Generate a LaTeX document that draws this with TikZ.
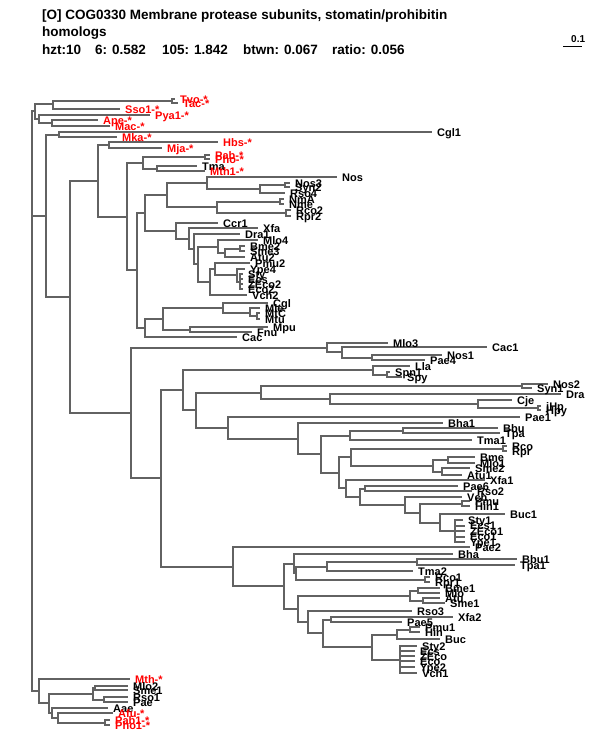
\documentclass[tikz,border=0pt]{standalone}
\usepackage{fontspec}
\setmainfont{Liberation Sans}
\usetikzlibrary{positioning}
\definecolor{branch}{RGB}{98,98,98}
\definecolor{archred}{RGB}{255,0,0}
\pgfdeclarelayer{lines}
\pgfsetlayers{lines,main}
\tikzset{
    br/.style={draw=branch, line width=2pt},
    tip/.style={anchor=west, inner xsep=5pt, inner ysep=0pt, text height=8pt, text depth=0pt,
        font=\fontsize{11}{11}\selectfont\bfseries},
    arch/.style={tip, text=archred},
    head/.style={anchor=base west, inner sep=0pt, font=\fontsize{13.5}{13.5}\selectfont\bfseries},
}

\begin{document}
\begin{tikzpicture}[x=1pt, y=-1pt]
\useasboundingbox (0,0) rectangle (600,750);
% title
\node[head] (title) at (42,19) {[O] COG0330 Membrane protease subunits, stomatin/prohibitin};
\node[head] (title2) at (42,36) {homologs};
\node[head] (st1) at (42,54) {hzt:10};
\node[head] (st2) at (95,54) {6: 0.582};
\node[head] (st3) at (162,54) {105: 1.842};
\node[head] (st4) at (243,54) {btwn: 0.067};
\node[head] (st5) at (332,54) {ratio: 0.056};
\node[head, font=\fontsize{10}{10}\selectfont\bfseries] (scl) at (571,42) {0.1};
\coordinate (sc0) at (563,46);
\coordinate (sc1) at (582,46);
\draw[line width=1pt] (sc0) -- (sc1);

% root and archaea
\coordinate (root) at (32,401);
\coordinate (arc) at (35,111);
\coordinate (arcb) at (53,104);
\coordinate (tvtc) at (172,101);
\coordinate (arcc) at (39,119);
\coordinate (arcd) at (52,123);
\node[arch] (tvo) at (175,99) {Tvo-*};
\node[arch] (tac) at (178,103) {Tac-*};
\node[arch] (sso1) at (120,109) {Sso1-*};
\node[arch] (pya1) at (150,115) {Pya1-*};
\node[arch] (ape) at (98,120) {Ape-*};
\node[arch] (mac) at (110,126) {Mac-*};

% upper bacteria
\coordinate (nbac) at (46,216);
\coordinate (ncm) at (59,134.5);
\node[tip] (cgl1) at (432,132) {Cgl1};
\node[arch] (mka) at (117,137) {Mka-*};
\coordinate (n70) at (70,297);
\coordinate (n98) at (98,181);
\coordinate (nhm) at (109,145);
\node[arch] (hbs) at (218,142) {Hbs-*};
\node[arch] (mja) at (162,148) {Mja-*};
\coordinate (n127) at (127,216.5);
\coordinate (npt) at (143,163);
\coordinate (npp) at (205,157);
\node[arch] (pab) at (210,155) {Pab-*};
\node[arch] (pho) at (210,159) {Pho-*};
\coordinate (ntm) at (157,169);
\node[tip] (tma) at (197,166) {Tma};
\node[arch] (mth1) at (205,171) {Mth1-*};
\coordinate (n137) at (137,270);
\coordinate (n145) at (145,213);
\coordinate (n167) at (167,195);
\coordinate (nnos) at (207,183);
\node[tip] (nos) at (337,177) {Nos};
\coordinate (nnsr) at (260,189);
\coordinate (nns) at (285,185);
\node[tip] (nos3) at (290,183) {Nos3};
\node[tip] (syn2) at (290,187) {Syn2};
\node[tip] (rso4) at (285,193) {Rso4};
\coordinate (n217) at (217,207);
\coordinate (nnm) at (280,201.5);
\node[tip] (nma) at (284,199) {NmA};
\node[tip] (nme) at (284,204) {Nme};
\coordinate (nrr) at (286,213);
\node[tip] (rco2) at (291,210) {Rco2};
\node[tip] (rpr2) at (291,216) {Rpr2};
\coordinate (n176) at (176,231);
\node[tip] (ccr1) at (218,223) {Ccr1};
\coordinate (nxf) at (189,238.5);
\node[tip] (xfa) at (258,228) {Xfa};
\coordinate (ndr) at (194,249);
\node[tip] (dra1) at (240,234) {Dra1};
\coordinate (nml) at (198,264);
\coordinate (nal) at (218,246.5);
\node[tip] (mlo4) at (258,240) {Mlo4};
\coordinate (nbsa) at (225,252.5);
\coordinate (nbs) at (240,248.5);
\node[tip] (bme2) at (245,246) {Bme2};
\node[tip] (sme3) at (245,251) {Sme3};
\node[tip] (atu2) at (245,257) {Atu2};
\coordinate (ngam) at (210,282);
\coordinate (npy) at (215,269);
\node[tip] (pmu2) at (250,263) {Pmu2};
\coordinate (nye) at (237,275);
\node[tip] (ype4) at (245,269) {Ype4};
\coordinate (nent) at (240,281.5);
\node[tip] (sty) at (243,274) {Sty};
\node[tip] (ecs2) at (243,279) {Ecs};
\node[tip] (zeco2) at (243,284) {ZEco2};
\node[tip] (eco2) at (243,289) {Eco2};
\node[tip] (vch2) at (247,295) {Vch2};
\coordinate (n145b) at (145,328);
\node[tip] (cac) at (237,337) {Cac};
\coordinate (n163) at (163,319);
\coordinate (n223) at (223,308);
\node[tip] (cgl) at (268,303) {Cgl};
\coordinate (nmt) at (250,312.5);
\node[tip] (mle) at (260,308) {Mle};
\coordinate (nmm) at (257,316);
\node[tip] (mtc) at (260,313) {MtC};
\node[tip] (mtu) at (260,319) {Mtu};
\coordinate (n190) at (190,330);
\node[tip] (mpu) at (268,327) {Mpu};
\node[tip] (fnu) at (252,332) {Fnu};

% lower bacteria
\coordinate (n131) at (131,413);
\coordinate (nmc) at (327,347.5);
\node[tip] (mlo3) at (388,343) {Mlo3};
\coordinate (n342) at (342,352);
\node[tip] (cac1) at (487,347) {Cac1};
\coordinate (n372) at (372,357.5);
\node[tip] (nos1) at (442,355) {Nos1};
\node[tip] (pae4) at (425,360) {Pae4};
\coordinate (n161) at (161,478);
\coordinate (n183) at (183,390);
\coordinate (nls) at (373,370);
\node[tip] (lla) at (410,366) {Lla};
\coordinate (nss) at (387,374.5);
\node[tip] (spn1) at (390,372) {Spn1};
\node[tip] (spy) at (402,377) {Spy};
\coordinate (n196) at (196,410);
\coordinate (n261) at (261,392.5);
\coordinate (nns2) at (522,386);
\node[tip] (nos2) at (548,384) {Nos2};
\node[tip] (syn1) at (532,388) {Syn1};
\coordinate (n330) at (330,399);
\node[tip] (dra) at (561,394) {Dra};
\coordinate (ncj) at (478,404);
\node[tip] (cje) at (512,400) {Cje};
\coordinate (njh) at (538,408);
\node[tip] (jhp) at (541,406) {jHp};
\node[tip] (hpy) at (541,410) {Hpy};
\coordinate (n228) at (228,428);
\node[tip] (pae1) at (520,417) {Pae1};
\coordinate (n298) at (298,438.5);
\node[tip] (bha1) at (443,423) {Bha1};
\coordinate (n321) at (321,454);
\coordinate (n350) at (350,435.5);
\coordinate (nbt) at (403,430.5);
\node[tip] (bbu) at (498,428) {Bbu};
\node[tip] (tpa) at (500,433) {Tpa};
\node[tip] (tma1) at (472,440) {Tma1};
\coordinate (n339) at (339,473);
\coordinate (n351) at (351,457);
\coordinate (nrc) at (503,448.5);
\node[tip] (rco) at (507,446) {Rco};
\node[tip] (rpr) at (507,451) {Rpr};
\coordinate (nal2) at (433,466);
\coordinate (nbm) at (448,460);
\node[tip] (bme) at (475,457) {Bme};
\node[tip] (mlo1) at (475,463) {Mlo1};
\coordinate (nsa) at (442,471.5);
\node[tip] (sme2) at (470,468) {Sme2};
\node[tip] (atu1) at (462,475) {Atu1};
\coordinate (n346) at (346,488);
\node[tip] (xfa1) at (485,480) {Xfa1};
\coordinate (n360) at (360,497);
\coordinate (npr) at (365,488.5);
\node[tip] (pae6) at (458,486) {Pae6};
\node[tip] (rso2) at (472,491) {Rso2};
\coordinate (n405) at (405,505);
\node[tip] (vch) at (462,497) {Vch};
\coordinate (n420) at (420,513);
\coordinate (nph) at (462,503.5);
\node[tip] (pmu) at (470,501) {Pmu};
\node[tip] (hin1) at (470,506) {Hin1};
\coordinate (n440) at (440,522.5);
\node[tip] (buc1) at (505,514) {Buc1};
\coordinate (nese) at (455,531);
\node[tip] (sty1) at (463,520) {Sty1};
\node[tip] (ecs1) at (465,525.5) {Ecs1};
\node[tip] (zeco1) at (465,531) {ZEco1};
\node[tip] (eco1) at (465,536.5) {Eco1};
\node[tip] (ype1) at (465,542) {Ype1};
\coordinate (n233) at (233,566.5);
\node[tip] (pae2) at (470,547) {Pae2};
\coordinate (n284) at (284,586);
\coordinate (n294) at (294,563.5);
\node[tip] (bha) at (453,554) {Bha};
\coordinate (n296) at (296,573);
\coordinate (n327) at (327,566.5);
\coordinate (nbt1) at (417,562);
\node[tip] (bbu1) at (517,559) {Bbu1};
\node[tip] (tpa1) at (515,565) {Tpa1};
\node[tip] (tma2) at (413,571) {Tma2};
\coordinate (nrr1) at (425,579.5);
\node[tip] (rco1) at (430,577) {Rco1};
\node[tip] (rpr1) at (430,582) {Rpr1};
\coordinate (n298b) at (298,609);
\coordinate (nab) at (410,595.5);
\coordinate (nbm1) at (418,590.5);
\node[tip] (bme1) at (440,588) {Bme1};
\node[tip] (mlo) at (440,593) {Mlo};
\coordinate (nas1) at (423,600.5);
\node[tip] (atu) at (440,598) {Atu};
\node[tip] (sme1) at (445,603) {Sme1};
\coordinate (n308) at (308,622);
\node[tip] (rso3) at (412,611) {Rso3};
\coordinate (n323) at (323,633);
\coordinate (n331) at (331,619.5);
\node[tip] (xfa2) at (453,617) {Xfa2};
\node[tip] (pae5) at (402,622) {Pae5};
\coordinate (nbot) at (372,647);
\coordinate (nphb) at (397,634.5);
\coordinate (nph1) at (410,629.5);
\node[tip] (pmu1) at (420,627) {Pmu1};
\node[tip] (hin) at (420,632) {Hin};
\node[tip] (buc) at (440,639) {Buc};
\coordinate (nent3) at (400,659.5);
\node[tip] (sty2) at (417,646) {Sty2};
\node[tip] (ecs) at (415,651) {Ecs};
\node[tip] (zeco) at (415,656) {ZEco};
\node[tip] (eco) at (415,661) {Eco};
\node[tip] (ype2) at (415,667) {Ype2};
\node[tip] (vch1) at (417,673) {Vch1};

% bottom clade
\coordinate (nmth) at (39,691);
\node[arch] (mth) at (130,679) {Mth-*};
\coordinate (n49) at (49,703);
\coordinate (n93) at (93,693.5);
\coordinate (nms) at (95,688);
\node[tip] (mlo2) at (128,686) {Mlo2};
\node[tip] (sme1b) at (128,690) {Sme1};
\coordinate (nrp) at (104,699.5);
\node[tip] (rso1) at (128,697) {Rso1};
\node[tip] (pae) at (128,702) {Pae};
\coordinate (n52) at (52,712.5);
\node[tip] (aae) at (108,708) {Aae};
\coordinate (n58) at (58,717.5);
\node[arch] (afu) at (113,713) {Afu-*};
\coordinate (npp1) at (105,722.5);
\node[arch] (pab1) at (110,720) {Pab1-*};
\node[arch] (pho1) at (110,725) {Pho1-*};

\begin{pgfonlayer}{lines}
\draw[br]
    (root) |- (arc) (root) |- (nbac) (root) |- (nmth)
    (arc) |- (arcb) (arc) |- (arcc)
    (arcb) |- (tvtc) (arcb) |- (sso1.west)
    (tvtc) |- (tvo.west) (tvtc) |- (tac.west)
    (arcc) |- (pya1.west) (arcc) |- (arcd)
    (arcd) |- (ape.west) (arcd) |- (mac.west);
\draw[br]
    (nbac) |- (ncm) (nbac) |- (n70)
    (ncm) |- (cgl1.west) (ncm) |- (mka.west)
    (n70) |- (n98) (n70) |- (n131)
    (n98) |- (nhm) (n98) |- (n127)
    (nhm) |- (hbs.west) (nhm) |- (mja.west)
    (n127) |- (npt) (n127) |- (n137)
    (npt) |- (npp) (npt) |- (ntm)
    (npp) |- (pab.west) (npp) |- (pho.west)
    (ntm) |- (tma.west) (ntm) |- (mth1.west)
    (n137) |- (n145) (n137) |- (n145b)
    (n145) |- (n167) (n145) |- (n176)
    (n167) |- (nnos) (n167) |- (n217)
    (nnos) |- (nos.west) (nnos) |- (nnsr)
    (nnsr) |- (nns) (nnsr) |- (rso4.west)
    (nns) |- (nos3.west) (nns) |- (syn2.west)
    (n217) |- (nnm) (n217) |- (nrr)
    (nnm) |- (nma.west) (nnm) |- (nme.west)
    (nrr) |- (rco2.west) (nrr) |- (rpr2.west);
\draw[br]
    (n176) |- (ccr1.west) (n176) |- (nxf)
    (nxf) |- (xfa.west) (nxf) |- (ndr)
    (ndr) |- (dra1.west) (ndr) |- (nml)
    (nml) |- (nal) (nml) |- (ngam)
    (nal) |- (mlo4.west) (nal) |- (nbsa)
    (nbsa) |- (nbs) (nbsa) |- (atu2.west)
    (nbs) |- (bme2.west) (nbs) |- (sme3.west)
    (ngam) |- (npy) (ngam) |- (vch2.west)
    (npy) |- (pmu2.west) (npy) |- (nye)
    (nye) |- (ype4.west) (nye) |- (nent)
    (nent) |- (sty.west) (nent) |- (ecs2.west) (nent) |- (zeco2.west) (nent) |- (eco2.west)
    (n145b) |- (n163) (n145b) |- (cac.west)
    (n163) |- (n223) (n163) |- (n190)
    (n223) |- (cgl.west) (n223) |- (nmt)
    (nmt) |- (mle.west) (nmt) |- (nmm)
    (nmm) |- (mtc.west) (nmm) |- (mtu.west)
    (n190) |- (mpu.west) (n190) |- (fnu.west);
\draw[br]
    (n131) |- (nmc) (n131) |- (n161)
    (nmc) |- (mlo3.west) (nmc) |- (n342)
    (n342) |- (cac1.west) (n342) |- (n372)
    (n372) |- (nos1.west) (n372) |- (pae4.west)
    (n161) |- (n183) (n161) |- (n233)
    (n183) |- (nls) (n183) |- (n196)
    (nls) |- (lla.west) (nls) |- (nss)
    (nss) |- (spn1.west) (nss) |- (spy.west)
    (n196) |- (n261) (n196) |- (n228)
    (n261) |- (nns2) (n261) |- (n330)
    (nns2) |- (nos2.west) (nns2) |- (syn1.west)
    (n330) |- (dra.west) (n330) |- (ncj)
    (ncj) |- (cje.west) (ncj) |- (njh)
    (njh) |- (jhp.west) (njh) |- (hpy.west)
    (n228) |- (pae1.west) (n228) |- (n298)
    (n298) |- (bha1.west) (n298) |- (n321)
    (n321) |- (n350) (n321) |- (n339)
    (n350) |- (nbt) (n350) |- (tma1.west)
    (nbt) |- (bbu.west) (nbt) |- (tpa.west)
    (n339) |- (n351) (n339) |- (n346)
    (n351) |- (nrc) (n351) |- (nal2)
    (nrc) |- (rco.west) (nrc) |- (rpr.west)
    (nal2) |- (nbm) (nal2) |- (nsa)
    (nbm) |- (bme.west) (nbm) |- (mlo1.west)
    (nsa) |- (sme2.west) (nsa) |- (atu1.west)
    (n346) |- (xfa1.west) (n346) |- (n360)
    (n360) |- (npr) (n360) |- (n405)
    (npr) |- (pae6.west) (npr) |- (rso2.west)
    (n405) |- (vch.west) (n405) |- (n420)
    (n420) |- (nph) (n420) |- (n440)
    (nph) |- (pmu.west) (nph) |- (hin1.west)
    (n440) |- (buc1.west) (n440) |- (nese)
    (nese) |- (sty1.west) (nese) |- (ecs1.west) (nese) |- (zeco1.west)
    (nese) |- (eco1.west) (nese) |- (ype1.west);
\draw[br]
    (n233) |- (pae2.west) (n233) |- (n284)
    (n284) |- (n294) (n284) |- (n298b)
    (n294) |- (bha.west) (n294) |- (n296)
    (n296) |- (n327) (n296) |- (nrr1)
    (n327) |- (nbt1) (n327) |- (tma2.west)
    (nbt1) |- (bbu1.west) (nbt1) |- (tpa1.west)
    (nrr1) |- (rco1.west) (nrr1) |- (rpr1.west)
    (n298b) |- (nab) (n298b) |- (n308)
    (nab) |- (nbm1) (nab) |- (nas1)
    (nbm1) |- (bme1.west) (nbm1) |- (mlo.west)
    (nas1) |- (atu.west) (nas1) |- (sme1.west)
    (n308) |- (rso3.west) (n308) |- (n323)
    (n323) |- (n331) (n323) |- (nbot)
    (n331) |- (xfa2.west) (n331) |- (pae5.west)
    (nbot) |- (nphb) (nbot) |- (nent3)
    (nphb) |- (nph1) (nphb) |- (buc.west)
    (nph1) |- (pmu1.west) (nph1) |- (hin.west)
    (nent3) |- (sty2.west) (nent3) |- (ecs.west) (nent3) |- (zeco.west)
    (nent3) |- (eco.west) (nent3) |- (ype2.west) (nent3) |- (vch1.west);
\draw[br]
    (nmth) |- (mth.west) (nmth) |- (n49)
    (n49) |- (n93) (n49) |- (n52)
    (n93) |- (nms) (n93) |- (nrp)
    (nms) |- (mlo2.west) (nms) |- (sme1b.west)
    (nrp) |- (rso1.west) (nrp) |- (pae.west)
    (n52) |- (aae.west) (n52) |- (n58)
    (n58) |- (afu.west) (n58) |- (npp1)
    (npp1) |- (pab1.west) (npp1) |- (pho1.west);
\end{pgfonlayer}
\end{tikzpicture}
\end{document}
